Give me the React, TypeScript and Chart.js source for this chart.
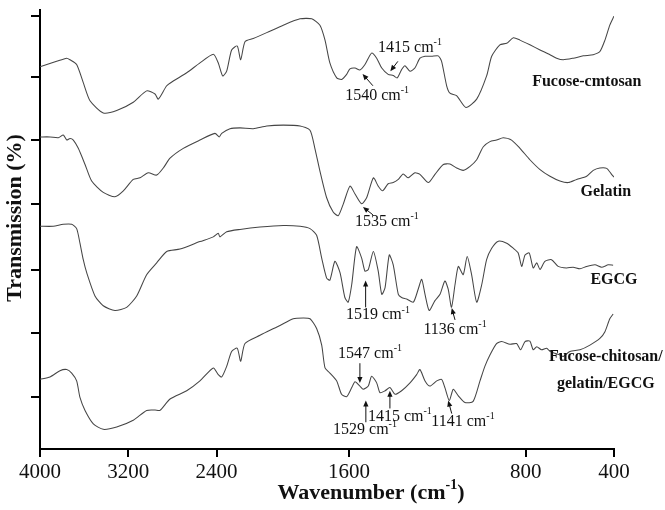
import React, { useEffect, useRef } from 'react';
import { Chart, LinearScale, registerables } from 'chart.js';

// ---------------- DATA ----------------
// [wavenumber (cm-1), transmission (a.u., curves offset vertically)]
const fucoseCmtosan: [number, number][] = [
  [4000, 97.1], [3849, 98.5], [3758, 99.3], [3728, 98.9], [3668, 97.7], [3608, 93.1], [3547, 88.5],
  [3427, 85.4], [3305, 86.0], [3155, 88.1], [3034, 91.0], [2958, 90.2], [2928, 88.9], [2852, 92.3],
  [2793, 93.5], [2671, 95.6], [2551, 98.1], [2430, 100.3], [2385, 98.1], [2345, 94.8], [2309, 96.0],
  [2264, 101.4], [2213, 102.4], [2182, 98.9], [2143, 103.5], [2068, 104.3], [1973, 105.8], [1898, 107.7],
  [1822, 109.3], [1769, 109.3], [1732, 107.7], [1709, 103.9], [1687, 98.1], [1656, 94.3], [1634, 93.9],
  [1611, 95.2], [1596, 96.6], [1573, 96.8], [1551, 96.3], [1528, 97.7], [1498, 100.6], [1475, 99.3],
  [1452, 96.8], [1423, 95.2], [1400, 94.9], [1382, 94.3], [1362, 96.4], [1347, 97.4], [1324, 96.0],
  [1302, 96.8], [1279, 99.3], [1256, 99.8], [1226, 99.8], [1196, 99.9], [1181, 98.5], [1158, 92.3],
  [1143, 90.4], [1113, 89.8], [1071, 86.8], [1022, 88.9], [977, 94.8], [954, 99.8], [917, 102.7],
  [886, 103.1], [856, 104.5], [826, 103.9], [781, 102.7], [735, 101.4], [690, 100.2], [660, 99.3],
  [630, 98.9], [585, 99.3], [539, 99.9], [494, 100.2], [464, 101.0], [441, 103.9], [419, 107.7], [400, 110.0],
];

const gelatin: [number, number][] = [
  [4000, 79.3], [3909, 79.3], [3834, 79.1], [3789, 79.8], [3758, 78.5], [3728, 78.9], [3698, 78.5],
  [3653, 76.4], [3592, 72.3], [3532, 68.1], [3427, 65.2], [3321, 64.1], [3245, 65.6], [3155, 68.5],
  [3094, 68.9], [3019, 70.2], [2943, 69.6], [2883, 71.4], [2822, 73.9], [2702, 76.4], [2551, 78.5],
  [2415, 80.2], [2376, 79.3], [2354, 80.2], [2279, 81.4], [2188, 81.6], [2068, 81.4], [1973, 82.1],
  [1898, 82.3], [1822, 82.1], [1777, 81.0], [1755, 76.4], [1732, 70.6], [1702, 63.9], [1672, 60.2],
  [1649, 59.3], [1626, 62.3], [1596, 66.8], [1573, 64.8], [1543, 62.3], [1520, 63.9], [1490, 68.9],
  [1468, 66.8], [1448, 65.6], [1423, 67.4], [1400, 67.7], [1377, 68.5], [1355, 69.9], [1332, 68.9],
  [1302, 70.2], [1279, 69.8], [1241, 67.7], [1211, 69.8], [1173, 72.3], [1143, 72.4], [1113, 71.4],
  [1083, 70.8], [1052, 71.8], [1022, 73.5], [1007, 75.2], [992, 76.8], [962, 78.1], [932, 78.5],
  [902, 79.1], [864, 78.5], [826, 76.4], [781, 73.5], [735, 71.0], [690, 69.3], [645, 68.1],
  [607, 67.7], [569, 68.5], [524, 69.3], [494, 70.8], [464, 71.4], [433, 71.3], [411, 69.8], [400, 69.1],
];

const egcg: [number, number][] = [
  [4000, 56.6], [3880, 56.6], [3789, 57.1], [3713, 57.1], [3668, 56.0], [3638, 52.3], [3608, 48.1],
  [3577, 44.8], [3502, 38.9], [3427, 36.4], [3321, 35.2], [3215, 36.0], [3124, 38.9], [3034, 44.3],
  [2943, 47.3], [2852, 50.2], [2732, 50.8], [2551, 52.7], [2430, 53.9], [2385, 54.8], [2370, 53.9],
  [2309, 55.2], [2188, 55.8], [2007, 56.4], [1898, 56.8], [1822, 56.6], [1777, 56.0], [1747, 54.3],
  [1724, 48.5], [1702, 43.5], [1687, 42.9], [1664, 47.7], [1641, 44.8], [1619, 38.5], [1604, 37.3],
  [1588, 41.8], [1566, 51.4], [1543, 48.5], [1528, 45.2], [1513, 45.6], [1490, 50.2], [1468, 45.2],
  [1452, 39.3], [1437, 41.0], [1418, 49.3], [1400, 46.8], [1377, 39.3], [1362, 38.5], [1339, 38.1],
  [1309, 37.3], [1287, 40.6], [1271, 43.1], [1256, 39.3], [1237, 35.2], [1211, 37.7], [1188, 39.3],
  [1166, 42.7], [1151, 40.6], [1136, 36.0], [1120, 41.8], [1105, 46.4], [1083, 44.3], [1065, 48.9],
  [1045, 44.3], [1022, 37.3], [999, 41.8], [977, 48.1], [954, 51.0], [924, 52.8], [886, 52.3],
  [856, 51.0], [834, 49.8], [818, 46.4], [803, 49.3], [784, 49.8], [766, 46.0], [750, 47.3],
  [735, 45.6], [713, 47.7], [683, 48.1], [653, 46.4], [615, 46.0], [585, 46.2], [554, 45.8],
  [524, 46.4], [486, 46.8], [456, 46.2], [426, 46.8], [404, 46.7],
];

const fucoseChitosanGelatinEgcg: [number, number][] = [
  [4000, 17.7], [3909, 18.3], [3819, 19.9], [3758, 20.2], [3713, 19.3], [3668, 17.3], [3638, 13.1],
  [3592, 9.8], [3517, 6.4], [3427, 5.0], [3305, 5.6], [3155, 7.3], [3034, 9.8], [2958, 9.9],
  [2913, 9.8], [2822, 12.7], [2671, 14.8], [2551, 17.3], [2430, 20.6], [2385, 18.9], [2354, 18.3],
  [2309, 21.0], [2264, 24.8], [2213, 25.6], [2182, 22.3], [2143, 26.8], [2007, 28.9], [1913, 31.4],
  [1853, 33.1], [1808, 33.3], [1777, 33.1], [1747, 30.6], [1724, 26.4], [1709, 20.6], [1687, 19.3],
  [1656, 17.3], [1634, 13.9], [1611, 13.3], [1588, 15.6], [1573, 17.1], [1551, 16.0], [1536, 15.2],
  [1513, 16.0], [1498, 18.5], [1475, 16.8], [1460, 14.3], [1437, 14.8], [1415, 15.6], [1392, 13.9],
  [1362, 14.8], [1324, 16.8], [1294, 18.9], [1279, 20.2], [1256, 17.3], [1234, 16.0], [1203, 17.3],
  [1181, 17.7], [1166, 15.6], [1146, 12.3], [1128, 15.2], [1105, 13.5], [1075, 11.8], [1038, 12.1],
  [1007, 17.3], [985, 21.0], [962, 23.9], [932, 26.8], [909, 27.3], [871, 26.6], [841, 26.8],
  [823, 25.2], [803, 27.3], [781, 27.4], [766, 25.2], [750, 26.0], [728, 25.2], [705, 25.6],
  [690, 24.8], [668, 24.3], [645, 23.9], [630, 23.5], [600, 24.8], [554, 25.2], [509, 26.4],
  [464, 28.1], [441, 29.8], [419, 33.1], [404, 34.3],
];

const SERIES_NAMES = ['Fucose-cmtosan', 'Gelatin', 'EGCG', 'Fucose-chitosan/gelatin/EGCG'];
const X_TICKS = [4000, 3200, 2400, 1600, 800, 400];
const Y_TICKS = [13.1, 29.5, 45.6, 62.2, 78.5, 94.6, 109.9];

// Peak annotations (data space): label centre, arrow tail, arrow head
const PEAK_NOTES = [
  { text: '1415', lx: 1324, ly: 102.0, tx: 1379, ty: 98.5, hx: 1413, hy: 96.0 },
  { text: '1540', lx: 1473, ly: 89.8, tx: 1492, ty: 92.3, hx: 1539, hy: 95.3 },
  { text: '1535', lx: 1429, ly: 57.8, tx: 1492, ty: 59.5, hx: 1537, hy: 61.5 },
  { text: '1519', lx: 1469, ly: 34.0, tx: 1525, ty: 36.0, hx: 1525, hy: 42.8 },
  { text: '1136', lx: 1120, ly: 30.3, tx: 1120, ty: 32.8, hx: 1135, hy: 35.8 },
  { text: '1547', lx: 1505, ly: 24.3, tx: 1551, ty: 21.8, hx: 1551, hy: 16.8 },
  { text: '1529', lx: 1528, ly: 5.0, tx: 1524, ty: 6.8, hx: 1524, hy: 12.3 },
  { text: '1415', lx: 1370, ly: 8.3, tx: 1415, ty: 10.3, hx: 1415, hy: 14.8 },
  { text: '1141', lx: 1084, ly: 7.0, tx: 1135, ty: 9.0, hx: 1151, hy: 12.3 },
];

const SERIES_LABELS = [
  { lines: ['Fucose-cmtosan'], x: 523, y: 93.3 },
  { lines: ['Gelatin'], x: 437, y: 65.3 },
  { lines: ['EGCG'], x: 400, y: 43.0 },
  { lines: ['Fucose-chitosan/', 'gelatin/EGCG'], x: 437, y: 23.3 },
];

// ---------------- SCALE WITH BREAK AT 2000 cm-1 ----------------
const BREAK = 2000;
const X_MAX = 4000;
const X_MIN = 400;
const TOTAL = (X_MAX - BREAK) + 2 * (BREAK - X_MIN);

class FtirScale extends LinearScale {
  static id = 'ftir';
  static defaults = (LinearScale as any).defaults;
  getPixelForValue(value: number) {
    if (value === null || value === undefined || isNaN(value)) return NaN;
    const g = value >= BREAK ? X_MAX - value : (X_MAX - BREAK) + 2 * (BREAK - value);
    return (this as any).getPixelForDecimal(g / TOTAL);
  }
  getValueForPixel(pixel: number) {
    const g = (this as any).getDecimalForPixel(pixel) * TOTAL;
    return g <= X_MAX - BREAK ? X_MAX - g : BREAK - (g - (X_MAX - BREAK)) / 2;
  }
}

Chart.register(...registerables, FtirScale as any);

const FONT = '"Liberation Serif", "Times New Roman", serif';
const INK = '#111';

type Seg = { t: string; sup?: boolean };

function drawRich(ctx: CanvasRenderingContext2D, segs: Seg[], x: number, y: number, size: number, bold: boolean, align: 'center' | 'left' = 'center') {
  const w = bold ? 'bold ' : '';
  const supSize = Math.round(size * 0.62);
  const widths = segs.map((s) => {
    ctx.font = `${w}${s.sup ? supSize : size}px ${FONT}`;
    return ctx.measureText(s.t).width;
  });
  const total = widths.reduce((a, b) => a + b, 0);
  let cx = align === 'center' ? x - total / 2 : x;
  ctx.textAlign = 'left';
  ctx.textBaseline = 'middle';
  segs.forEach((s, i) => {
    ctx.font = `${w}${s.sup ? supSize : size}px ${FONT}`;
    ctx.fillText(s.t, cx, s.sup ? y - size * 0.33 : y);
    cx += widths[i];
  });
}

const overlayPlugin = {
  id: 'ftirOverlay',
  afterDraw(chart: any) {
    const { ctx } = chart;
    const xs = chart.scales.x;
    const ys = chart.scales.y;
    ctx.save();
    ctx.fillStyle = INK;
    ctx.strokeStyle = INK;

    // peak notes
    PEAK_NOTES.forEach((n) => {
      const lx = xs.getPixelForValue(n.lx);
      const ly = ys.getPixelForValue(n.ly);
      drawRich(ctx, [{ t: `${n.text} cm` }, { t: '-1', sup: true }], lx, ly, 16, false);
      const tx = xs.getPixelForValue(n.tx);
      const ty = ys.getPixelForValue(n.ty);
      const hx = xs.getPixelForValue(n.hx);
      const hy = ys.getPixelForValue(n.hy);
      const ang = Math.atan2(hy - ty, hx - tx);
      const L = 6;
      const W = 2.6;
      ctx.lineWidth = 1;
      ctx.beginPath();
      ctx.moveTo(tx, ty);
      ctx.lineTo(hx - Math.cos(ang) * L * 0.8, hy - Math.sin(ang) * L * 0.8);
      ctx.stroke();
      ctx.beginPath();
      ctx.moveTo(hx, hy);
      ctx.lineTo(hx - Math.cos(ang) * L - Math.sin(ang) * W, hy - Math.sin(ang) * L + Math.cos(ang) * W);
      ctx.lineTo(hx - Math.cos(ang) * L + Math.sin(ang) * W, hy - Math.sin(ang) * L - Math.cos(ang) * W);
      ctx.closePath();
      ctx.fill();
    });

    // series labels
    SERIES_LABELS.forEach((s) => {
      const px = xs.getPixelForValue(s.x);
      const py = ys.getPixelForValue(s.y);
      s.lines.forEach((line, i) => {
        drawRich(ctx, [{ t: line }], px, py + i * 27, 16, true);
      });
    });

    // axis titles
    drawRich(ctx, [{ t: 'Wavenumber (cm' }, { t: '-1', sup: true }, { t: ')' }], 371, 493, 22, true);
    ctx.save();
    ctx.translate(15, 218);
    ctx.rotate(-Math.PI / 2);
    drawRich(ctx, [{ t: 'Transmission (%)' }], 0, 0, 22, true);
    ctx.restore();
    ctx.restore();
  },
};

export default function App() {
  const ref = useRef<HTMLCanvasElement | null>(null);
  useEffect(() => {
    document.body.style.margin = '0';
    const canvas = ref.current;
    if (!canvas) return;
    const all = [fucoseCmtosan, gelatin, egcg, fucoseChitosanGelatinEgcg];
    const chart = new Chart(canvas, {
      type: 'line',
      data: {
        datasets: all.map((d, i) => ({
          label: SERIES_NAMES[i],
          data: d.map(([x, y]) => ({ x, y })),
          borderColor: '#454545',
          borderWidth: 1.05,
          pointRadius: 0,
          tension: 0.22,
          fill: false,
        })),
      },
      options: {
        animation: false,
        responsive: false,
        events: [],
        layout: { padding: { left: 0, right: 51, top: 3, bottom: 0 } },
        plugins: { legend: { display: false }, tooltip: { enabled: false } },
        scales: {
          x: {
            type: 'ftir' as any,
            position: 'bottom',
            min: X_MIN,
            max: X_MAX,
            afterBuildTicks: (s: any) => {
              s.ticks = X_TICKS.map((v) => ({ value: v }));
            },
            afterFit: (s: any) => {
              s.height = 61;
            },
            ticks: {
              autoSkip: false,
              maxRotation: 0,
              padding: 3,
              color: INK,
              font: { family: FONT, size: 21 },
              callback: (v: any) => String(v),
            },
            grid: { drawOnChartArea: false, drawTicks: true, tickLength: 8, color: '#000', lineWidth: 2 },
            border: { display: true, color: '#000', width: 2 },
          },
          y: {
            type: 'linear',
            min: 0,
            max: 111.5,
            afterBuildTicks: (s: any) => {
              s.ticks = Y_TICKS.map((v) => ({ value: v }));
            },
            afterFit: (s: any) => {
              s.width = 40;
            },
            ticks: { autoSkip: false, callback: () => '' },
            grid: { drawOnChartArea: false, drawTicks: true, tickLength: 9, color: '#000', lineWidth: 2 },
            border: { display: true, color: '#000', width: 2 },
          },
        },
      } as any,
      plugins: [overlayPlugin],
    });
    return () => chart.destroy();
  }, []);
  return (
    <div style={{ width: 665, height: 510, background: '#fff' }}>
      <canvas ref={ref} width={665} height={510} style={{ display: 'block' }} />
    </div>
  );
}
